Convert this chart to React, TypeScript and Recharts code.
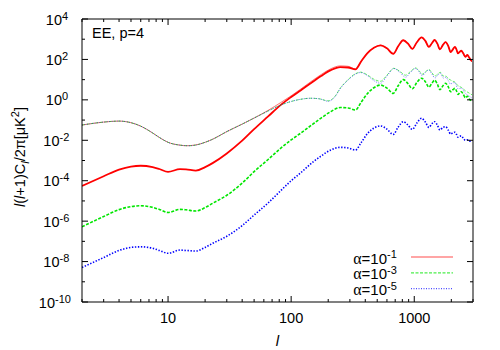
import { LineChart, Line, XAxis, YAxis, Legend, Label } from 'recharts';

const FONT = '"Liberation Sans", Arial, Helvetica, sans-serif';
const SERIF = '"Liberation Serif", "DejaVu Serif", serif';

const RED = '#ff0000';
const GREEN = '#00e600';
const BLUE = '#0000ff';

// multipole grid for the thick curves
const lThick = [
  2, 3, 4, 5, 6, 7.5, 8.5, 10, 12.5, 14, 16.8, 20, 23, 30, 40, 50, 65, 82, 100, 120,
  150, 175, 210, 250, 290, 333, 370, 415, 470, 532, 600, 675, 740, 814, 890, 964, 1050, 1146, 1230, 1315,
  1390, 1463, 1540, 1616, 1710, 1797, 1890, 1974, 2060, 2140, 2200, 2265, 2340, 2412, 2500, 2600, 2699, 2800, 2900, 3000,
];

// values read as powers of ten (the y axis is logarithmic)
const redThickExp = [
  -4.26, -3.78, -3.45, -3.3, -3.26, -3.33, -3.42, -3.56, -3.43, -3.44, -3.5, -3.33, -3.13, -2.65, -2.02, -1.45, -0.82, -0.26, 0.14, 0.48,
  0.9, 1.18, 1.47, 1.62, 1.6, 1.51, 1.9, 2.3, 2.58, 2.7, 2.55, 2.28, 2.65, 2.95, 2.78, 2.52, 2.85, 3.09, 2.92, 2.62,
  2.8, 2.96, 2.78, 2.5, 2.72, 2.86, 2.66, 2.36, 2.5, 2.62, 2.5, 2.3, 2.38, 2.43, 2.3, 2.13, 2.22, 2.08, 1.95, 1.88,
];
const redThinExp = [
  -1.245, -1.1, -1.05, -1.13, -1.3, -1.64, -1.86, -2.1, -2.24, -2.27, -2.23, -2.1, -1.95, -1.57, -1.2, -0.9, -0.52, -0.14, 0.2, 0.54,
  0.97, 1.25, 1.54, 1.68, 1.66, 1.53, 1.9, 2.3, 2.58, 2.7, 2.55, 2.28, 2.65, 2.95, 2.78, 2.52, 2.85, 3.09, 2.92, 2.62,
  2.8, 2.96, 2.78, 2.5, 2.72, 2.86, 2.66, 2.36, 2.5, 2.62, 2.5, 2.3, 2.38, 2.43, 2.3, 2.13, 2.22, 2.08, 1.95, 1.88,
];
const greenThickExp = [
  -6.28, -5.77, -5.43, -5.28, -5.24, -5.32, -5.42, -5.57, -5.42, -5.44, -5.5, -5.33, -5.12, -4.72, -4.12, -3.55, -2.95, -2.4, -1.98, -1.64,
  -1.2, -0.9, -0.58, -0.38, -0.4, -0.5, -0.12, 0.3, 0.6, 0.73, 0.58, 0.32, 0.7, 1.0, 0.8, 0.55, 0.86, 1.07, 0.9, 0.63,
  0.82, 0.97, 0.78, 0.5, 0.7, 0.82, 0.64, 0.4, 0.5, 0.57, 0.45, 0.27, 0.35, 0.4, 0.28, 0.1, 0.18, 0.04, -0.05, -0.1,
];
const blueThickExp = [
  -8.29, -7.8, -7.45, -7.3, -7.27, -7.34, -7.45, -7.59, -7.43, -7.45, -7.48, -7.3, -7.1, -6.75, -6.22, -5.7, -5.1, -4.5, -4.0, -3.6,
  -3.08, -2.78, -2.48, -2.35, -2.38, -2.48, -2.12, -1.68, -1.4, -1.29, -1.45, -1.71, -1.35, -1.08, -1.25, -1.46, -1.15, -0.91, -1.1, -1.36,
  -1.18, -1.08, -1.25, -1.49, -1.36, -1.33, -1.5, -1.69, -1.63, -1.6, -1.7, -1.85, -1.8, -1.78, -1.9, -2.0, -1.98, -2.04, -2.05, -2.08,
];

// grid for the thin green / blue curves (their oscillations are out of phase)
const lThin = [
  2, 3, 4, 5, 6, 7.5, 8.5, 10, 12.5, 14.8, 17, 20, 23, 30, 40, 50, 65, 82, 100, 120,
  144, 170, 200, 225, 252, 290, 330, 366, 420, 470, 532, 600, 683, 760, 849, 930, 1025, 1090, 1161, 1240,
  1315, 1390, 1475, 1550, 1630, 1720, 1800, 1890, 1974, 2060, 2140, 2265, 2410, 2600, 2800, 3000,
];
const greenThinExp = [
  -1.245, -1.1, -1.05, -1.13, -1.3, -1.64, -1.86, -2.1, -2.24, -2.27, -2.23, -2.1, -1.95, -1.57, -1.2, -0.9, -0.55, -0.26, -0.08, 0.03,
  0.08, 0.05, -0.05, 0.15, 0.6, 1.0, 1.28, 1.37, 1.22, 1.02, 0.92, 1.22, 1.56, 1.42, 1.22, 1.4, 1.58, 1.45, 1.27, 1.4,
  1.5, 1.34, 1.18, 1.28, 1.36, 1.18, 1.18, 1.05, 0.98, 0.92, 0.88, 0.7, 0.62, 0.45, 0.33, 0.22,
];
const blueThinExp = [
  -1.245, -1.1, -1.05, -1.13, -1.3, -1.64, -1.86, -2.1, -2.24, -2.27, -2.23, -2.1, -1.95, -1.57, -1.2, -0.9, -0.55, -0.26, -0.08, 0.03,
  0.08, 0.05, -0.07, 0.12, 0.58, 0.98, 1.26, 1.35, 1.18, 0.95, 0.82, 1.18, 1.55, 1.38, 1.12, 1.35, 1.56, 1.4, 1.2, 1.38,
  1.48, 1.28, 1.08, 1.22, 1.32, 1.08, 1.12, 0.95, 0.78, 0.85, 0.85, 0.55, 0.58, 0.32, 0.18, 0.05,
];

const xTicks = [
  2, 3, 4, 5, 6, 7, 8, 9, 10, 20, 30, 40, 50, 60, 70, 80, 90, 100,
  200, 300, 400, 500, 600, 700, 800, 900, 1000, 2000, 3000,
];
const xLabels = [10, 100, 1000];
const yTicks = [1e-10, 1e-9, 1e-8, 1e-7, 1e-6, 1e-5, 1e-4, 1e-3, 1e-2, 1e-1, 1, 1e1, 1e2, 1e3, 1e4];
const alphaExps = ['-1', '-3', '-5'];

const toPoints = (ls: number[], exps: number[]) => ls.map((l, i) => ({ l, v: Math.pow(10, exps[i]) }));

const series = [
  { key: 'redThick', data: toPoints(lThick, redThickExp), color: RED, width: 1.8, dash: undefined, opacity: 1, legend: '' },
  { key: 'greenThick', data: toPoints(lThick, greenThickExp), color: GREEN, width: 1.6, dash: '3 1.5', opacity: 1, legend: '' },
  { key: 'blueThick', data: toPoints(lThick, blueThickExp), color: BLUE, width: 1.6, dash: '1.4 1.6', opacity: 1, legend: '' },
  { key: 'redThin', data: toPoints(lThick, redThinExp), color: RED, width: 1, dash: undefined, opacity: 0.55, legend: alphaExps[0] },
  { key: 'greenThin', data: toPoints(lThin, greenThinExp), color: GREEN, width: 1, dash: '3 1.5', opacity: 0.6, legend: alphaExps[1] },
  { key: 'blueThin', data: toPoints(lThin, blueThinExp), color: BLUE, width: 1, dash: '1 1.5', opacity: 0.55, legend: alphaExps[2] },
];

const XTick = (props: any) => {
  const { x, y, payload, top } = props;
  const v = payload.value;
  const major = xLabels.includes(v);
  const len = major ? 6 : 3;
  const dir = top ? 1 : -1;
  return (
    <g>
      <line x1={x} x2={x} y1={y} y2={y + dir * len} stroke="#000" strokeWidth={1} />
      {!top && major && (
        <text x={x} y={y + 21} textAnchor="middle" fontSize={14.5} fontFamily={FONT} fill="#000">
          {v}
        </text>
      )}
    </g>
  );
};

const YTick = (props: any) => {
  const { x, y, payload, right } = props;
  const exp = Math.round(Math.log10(payload.value));
  const major = exp % 2 === 0;
  const len = major ? 6 : 3;
  const dir = right ? -1 : 1;
  const sup = String(exp);
  const baseEnd = x - [20, 22.5, 27][sup.length - 1];
  return (
    <g>
      <line x1={x} x2={x + dir * len} y1={y} y2={y} stroke="#000" strokeWidth={1} />
      {!right && major && (
        <g fontFamily={FONT} fill="#000">
          <text x={baseEnd} y={y + 5.5} textAnchor="end" fontSize={14.5}>10</text>
          <text x={baseEnd} y={y + 0.5} textAnchor="start" fontSize={11}>{sup}</text>
        </g>
      )}
    </g>
  );
};

const renderLegend = (props: any) => {
  const items = (props.payload || []).filter((p: any) => p.type !== 'none');
  return (
    <svg width={175} height={60} style={{ display: 'block' }}>
      {items.map((item: any, i: number) => {
        const s = series.find((d) => d.legend && d.legend === String(item.value).split('^')[1]);
        const base = 19.5 + i * 15.8;
        return (
          <g key={i}>
            <text x={87} y={base} textAnchor="end" fontSize={15} fontFamily={FONT} fill="#000">
              <tspan fontFamily={SERIF} fontSize={16}>α</tspan>=10
            </text>
            <text x={87} y={base - 5.5} fontSize={11} fontFamily={FONT} fill="#000">
              {s ? s.legend : ''}
            </text>
            <line
              x1={111}
              x2={153}
              y1={base - 6.5}
              y2={base - 6.5}
              stroke={s ? s.color : item.color}
              strokeWidth={1.2}
              strokeOpacity={0.7}
              strokeDasharray={s ? s.dash : undefined}
            />
          </g>
        );
      })}
    </svg>
  );
};

export default function App() {
  return (
    <div style={{ position: 'absolute', left: 0, top: 0, background: '#fff' }}>
      <LineChart width={500} height={350} margin={{ top: 18, right: 26, bottom: 8, left: 22 }}>
        <XAxis
          dataKey="l"
          type="number"
          scale="log"
          domain={[2, 3000]}
          ticks={xTicks}
          interval={0}
          allowDataOverflow
          height={40}
          tickSize={0}
          tickMargin={0}
          tickLine={false}
          axisLine={{ stroke: '#808080', strokeWidth: 2 }}
          tick={(p: any) => <XTick {...p} />}
        >
          <Label
            content={() => (
              <text x={277.5} y={346} textAnchor="middle" fontSize={15} fontStyle="italic" fontFamily={FONT} fill="#000">
                l
              </text>
            )}
          />
        </XAxis>
        <XAxis
          xAxisId="top"
          orientation="top"
          dataKey="l"
          type="number"
          scale="log"
          domain={[2, 3000]}
          ticks={xTicks}
          interval={0}
          allowDataOverflow
          height={1}
          tickSize={0}
          tickMargin={0}
          tickLine={false}
          axisLine={{ stroke: '#000', strokeWidth: 1 }}
          tick={(p: any) => <XTick {...p} top />}
        >
          <Label
            content={() => (
              <text x={92} y={37.5} fontSize={14.5} fontFamily={FONT} fill="#000">
                EE, p=4
              </text>
            )}
          />
        </XAxis>
        <YAxis
          type="number"
          scale="log"
          domain={[1e-10, 1e4]}
          ticks={yTicks}
          interval={0}
          allowDataOverflow
          width={60}
          tickSize={0}
          tickMargin={0}
          tickLine={false}
          axisLine={{ stroke: '#000', strokeWidth: 1 }}
          tick={(p: any) => <YTick {...p} />}
        >
          <Label
            content={() => (
              <text
                x={25}
                y={157}
                transform="rotate(-90 25 157)"
                textAnchor="middle"
                fontSize={14.5}
                fontFamily={FONT}
                fill="#000"
              >
                <tspan fontStyle="italic">l</tspan>(<tspan fontStyle="italic">l</tspan>+1)C
                <tspan fontStyle="italic" fontSize={11} dy={4}>l</tspan>
                <tspan dy={-4}>/2π[μK</tspan>
                <tspan fontSize={11} dy={-6}>2</tspan>
                <tspan dy={6}>]</tspan>
              </text>
            )}
          />
        </YAxis>
        <YAxis
          yAxisId="right"
          orientation="right"
          type="number"
          scale="log"
          domain={[1e-10, 1e4]}
          ticks={yTicks}
          interval={0}
          allowDataOverflow
          width={1}
          tickSize={0}
          tickMargin={0}
          tickLine={false}
          axisLine={{ stroke: '#808080', strokeWidth: 2 }}
          tick={(p: any) => <YTick {...p} right />}
        />
        <Legend
          layout="vertical"
          align="center"
          verticalAlign="middle"
          content={renderLegend}
          wrapperStyle={{ left: 300, top: 244, width: 175, height: 60 }}
        />
        {series.map((s) => (
          <Line
            key={s.key}
            data={s.data}
            dataKey="v"
            name={s.legend ? `α=10^${s.legend}` : s.key}
            type="monotone"
            stroke={s.color}
            strokeWidth={s.width}
            strokeOpacity={s.opacity}
            strokeDasharray={s.dash}
            dot={false}
            activeDot={false}
            legendType={s.legend ? 'line' : 'none'}
            isAnimationActive={false}
          />
        ))}
      </LineChart>
    </div>
  );
}
